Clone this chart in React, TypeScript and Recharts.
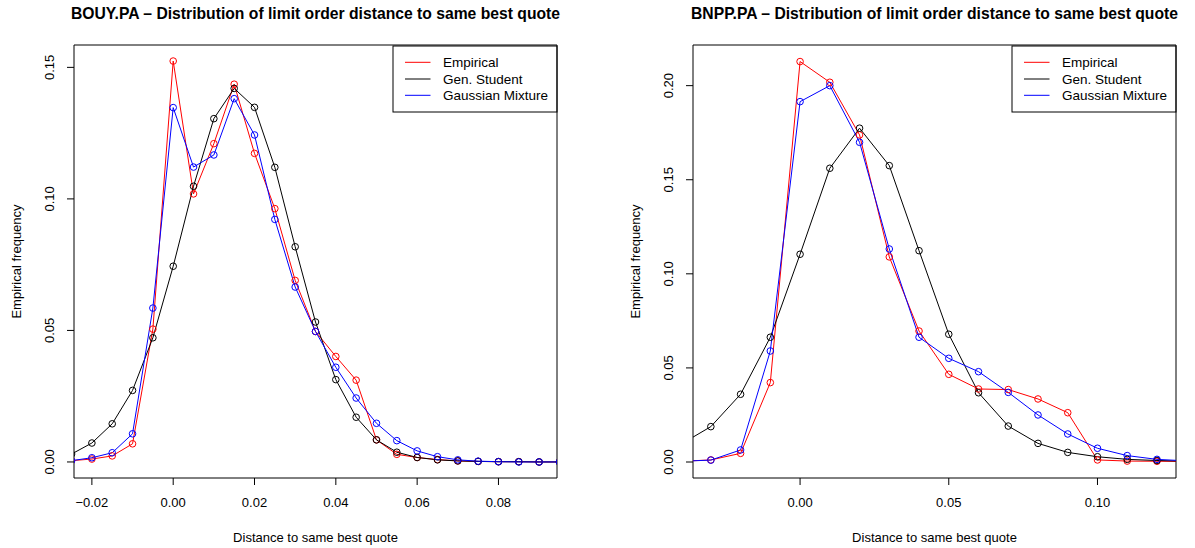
import React from 'react';
import { LineChart, Line, XAxis, YAxis, ReferenceArea, Customized } from 'recharts';

const FONT = '"Liberation Sans", Arial, Helvetica, sans-serif';

// BOUY.PA panel
const bouyX = [-0.025, -0.02, -0.015, -0.01, -0.005, 0, 0.005, 0.01, 0.015, 0.02, 0.025, 0.03, 0.035,
  0.04, 0.045, 0.05, 0.055, 0.06, 0.065, 0.07, 0.075, 0.08, 0.085, 0.09, 0.095];
const bouyEmpirical = [0.0005, 0.0011, 0.0023, 0.0069, 0.0505, 0.1524, 0.1019, 0.121, 0.1436, 0.1173, 0.0963,
  0.069, 0.0496, 0.0401, 0.0311, 0.0084, 0.0029, 0.0017, 0.0009, 0.0004, 0.0002, 0.0001, 0.0001, 0, 0];
const bouyStudent = [0.003, 0.0072, 0.0145, 0.0272, 0.0472, 0.0744, 0.1048, 0.1305, 0.142, 0.1348, 0.112,
  0.0818, 0.0532, 0.0313, 0.017, 0.0084, 0.0037, 0.0017, 0.0008, 0.0004, 0.0002, 0.0001, 0.0001, 0, 0];
const bouyMixture = [0.0005, 0.0016, 0.0035, 0.0107, 0.0585, 0.1347, 0.1121, 0.1167, 0.1381, 0.1243, 0.0922,
  0.0665, 0.0496, 0.036, 0.0243, 0.0147, 0.0081, 0.0042, 0.002, 0.0008, 0.0003, 0.0001, 0, 0, 0];
const bouyXTicks = [-0.02, 0, 0.02, 0.04, 0.06, 0.08];
const bouyYTicks = [0, 0.05, 0.1, 0.15];

// BNPP.PA panel
const bnppX = [-0.04, -0.03, -0.02, -0.01, 0, 0.01, 0.02, 0.03, 0.04, 0.05, 0.06, 0.07, 0.08, 0.09, 0.1,
  0.11, 0.12, 0.13];
const bnppEmpirical = [0.0004, 0.0011, 0.0046, 0.0422, 0.2128, 0.2018, 0.1738, 0.109, 0.0696, 0.0466, 0.0388,
  0.0385, 0.0335, 0.0262, 0.0011, 0.0005, 0.0004, 0.0003];
const bnppStudent = [0.0095, 0.0188, 0.036, 0.0663, 0.1104, 0.1561, 0.1774, 0.1575, 0.1123, 0.0679, 0.0368,
  0.0191, 0.0099, 0.0051, 0.0028, 0.0014, 0.0008, 0.0004];
const bnppMixture = [0.0004, 0.001, 0.0064, 0.059, 0.1915, 0.2, 0.1699, 0.1132, 0.0663, 0.0551, 0.048, 0.037,
  0.025, 0.0149, 0.0073, 0.0034, 0.0014, 0.0006];
const bnppXTicks = [0, 0.05, 0.1];
const bnppYTicks = [0, 0.05, 0.1, 0.15, 0.2];

const seriesNames = ['Empirical', 'Gen. Student', 'Gaussian Mixture'];
const seriesColors = ['#ff0000', '#000000', '#0000ff'];

const toRows = (xs: number[], emp: number[], stu: number[], mix: number[]) =>
  xs.map((x, i) => ({ x, emp: emp[i], stu: stu[i], mix: mix[i] }));

const fmt = (v: number) => v.toFixed(2).replace('-', '\u2212');

const XTick = (props: any) => {
  const { x, y, payload } = props;
  return (
    <text x={x} y={y + 22} textAnchor="middle" fontSize={13} fontFamily={FONT} fill="#000">
      {fmt(payload.value)}
    </text>
  );
};

const YTick = (props: any) => {
  const { x, y, payload } = props;
  const bx = x - 13;
  return (
    <text x={bx} y={y} transform={`rotate(-90, ${bx}, ${y})`} textAnchor="middle" fontSize={13}
      fontFamily={FONT} fill="#000">
      {fmt(payload.value)}
    </text>
  );
};

const makeDot = (color: string) => (props: any) => {
  const { cx, cy, index } = props;
  if (cx == null || cy == null) return <g key={index} />;
  return <circle key={index} cx={cx} cy={cy} r={3.3} stroke={color} strokeWidth={1} fill="none" />;
};

const Decor = (p: { pl: number; pr: number; title: string }) => {
  const top = 45;
  const bottom = 478;
  const mid = (p.pl + p.pr) / 2;
  const lx = p.pr - 164;
  const rowsY = [62.3, 79, 95.3];
  return (
    <g fontFamily={FONT}>
      <text x={mid} y={19} textAnchor="middle" fontSize={15.7} fontWeight="bold" fill="#000">{p.title}</text>
      <text x={mid} y={542} textAnchor="middle" fontSize={13} fill="#000">Distance to same best quote</text>
      <text x={p.pl - 53} y={(top + bottom) / 2} transform={`rotate(-90, ${p.pl - 53}, ${(top + bottom) / 2})`}
        textAnchor="middle" fontSize={13} fill="#000">Empirical frequency</text>
      <rect x={lx} y={46} width={164} height={66} fill="#fff" stroke="#000" strokeWidth={1} />
      {seriesNames.map((n, i) => (
        <g key={n}>
          <line x1={lx + 12} x2={lx + 37.5} y1={rowsY[i]} y2={rowsY[i]} stroke={seriesColors[i]} strokeWidth={1} />
          <text x={lx + 50} y={rowsY[i] + 4.7} fontSize={13.5} fill="#000">{n}</text>
        </g>
      ))}
    </g>
  );
};

type PanelProps = {
  left: number;
  width: number;
  yAxisWidth: number;
  rightMargin: number;
  rows: { x: number; emp: number; stu: number; mix: number }[];
  xDomain: [number, number];
  yDomain: [number, number];
  xTicks: number[];
  yTicks: number[];
  title: string;
};

const Panel = (p: PanelProps) => {
  const pl = p.yAxisWidth;
  const pr = p.width - p.rightMargin;
  return (
    <div style={{ position: 'absolute', left: p.left, top: 0 }}>
      <LineChart width={p.width} height={548} data={p.rows}
        margin={{ top: 45, right: p.rightMargin, bottom: 0, left: 0 }}>
        <XAxis dataKey="x" type="number" domain={p.xDomain} allowDataOverflow ticks={p.xTicks}
          height={70} tickSize={7} tickMargin={0} axisLine={false} tickLine={{ stroke: '#000' }}
          tick={<XTick />} interval={0} />
        <YAxis type="number" domain={p.yDomain} allowDataOverflow ticks={p.yTicks} width={p.yAxisWidth}
          tickSize={7} tickMargin={0} axisLine={false} tickLine={{ stroke: '#000' }} tick={<YTick />}
          interval={0} />
        <ReferenceArea x1={p.xDomain[0]} x2={p.xDomain[1]} y1={p.yDomain[0]} y2={p.yDomain[1]}
          fill="none" stroke="#000" strokeWidth={1} ifOverflow="visible" />
        <Line dataKey="emp" type="linear" stroke={seriesColors[0]} strokeWidth={1} dot={makeDot(seriesColors[0])}
          activeDot={false} isAnimationActive={false} />
        <Line dataKey="stu" type="linear" stroke={seriesColors[1]} strokeWidth={1} dot={makeDot(seriesColors[1])}
          activeDot={false} isAnimationActive={false} />
        <Line dataKey="mix" type="linear" stroke={seriesColors[2]} strokeWidth={1} dot={makeDot(seriesColors[2])}
          activeDot={false} isAnimationActive={false} />
        <Customized component={<Decor pl={pl} pr={pr} title={p.title} />} />
      </LineChart>
    </div>
  );
};

export default function App() {
  return (
    <div style={{ position: 'absolute', left: 0, top: 0, width: 1195, height: 548, background: '#fff' }}>
      <Panel left={0} width={600} yAxisWidth={74} rightMargin={43}
        rows={toRows(bouyX, bouyEmpirical, bouyStudent, bouyMixture)}
        xDomain={[-0.0244, 0.0944]} yDomain={[-0.0061, 0.1585]}
        xTicks={bouyXTicks} yTicks={bouyYTicks}
        title="BOUY.PA – Distribution of limit order distance to same best quote" />
      <Panel left={600} width={595} yAxisWidth={93} rightMargin={19}
        rows={toRows(bnppX, bnppEmpirical, bnppStudent, bnppMixture)}
        xDomain={[-0.036, 0.1264]} yDomain={[-0.0085, 0.2216]}
        xTicks={bnppXTicks} yTicks={bnppYTicks}
        title="BNPP.PA – Distribution of limit order distance to same best quote" />
    </div>
  );
}
